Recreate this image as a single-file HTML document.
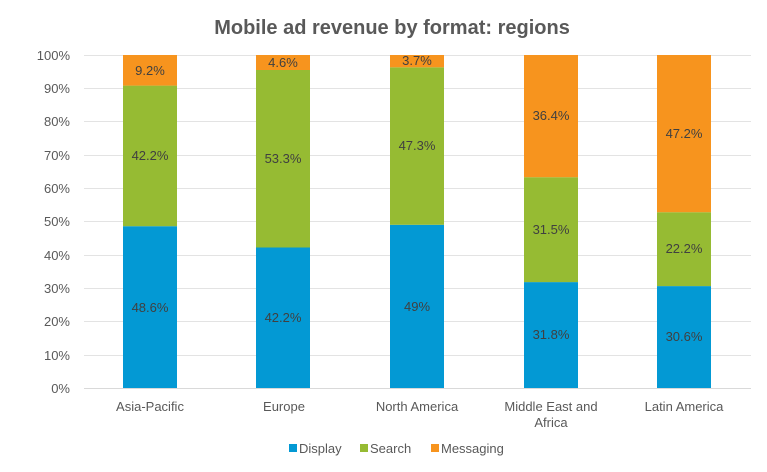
<!DOCTYPE html>
<html><head><meta charset="utf-8"><style>body{margin:0;background:#fff}svg{display:block}</style></head><body>
<svg width="767" height="472" xmlns="http://www.w3.org/2000/svg" font-family="Liberation Sans, Arial, sans-serif">
<text x="392" y="34" text-anchor="middle" font-size="20" font-weight="bold" fill="#595959">Mobile ad revenue by format: regions</text>
<g stroke="#e3e3e3" stroke-width="1">
<line x1="84" x2="751" y1="55.5" y2="55.5"/><line x1="84" x2="751" y1="88.5" y2="88.5"/><line x1="84" x2="751" y1="121.5" y2="121.5"/><line x1="84" x2="751" y1="155.5" y2="155.5"/><line x1="84" x2="751" y1="188.5" y2="188.5"/><line x1="84" x2="751" y1="221.5" y2="221.5"/><line x1="84" x2="751" y1="255.5" y2="255.5"/><line x1="84" x2="751" y1="288.5" y2="288.5"/><line x1="84" x2="751" y1="321.5" y2="321.5"/><line x1="84" x2="751" y1="355.5" y2="355.5"/><line x1="84" x2="751" y1="388.5" y2="388.5" stroke="#d9d9d9"/>
</g>
<g font-size="13" fill="#595959" text-anchor="end">
<text x="70" y="60">100%</text><text x="70" y="93">90%</text><text x="70" y="126">80%</text><text x="70" y="160">70%</text><text x="70" y="193">60%</text><text x="70" y="226">50%</text><text x="70" y="260">40%</text><text x="70" y="293">30%</text><text x="70" y="326">20%</text><text x="70" y="360">10%</text><text x="70" y="393">0%</text>
</g>
<!-- bars: y(p)=388-3.33p -->
<g>
<rect x="123" y="226.2" width="54" height="161.8" fill="#0399D4"/><rect x="123" y="85.6" width="54" height="140.6" fill="#96BB33"/><rect x="123" y="55" width="54" height="30.6" fill="#F7941E"/>
<rect x="256" y="247.5" width="54" height="140.5" fill="#0399D4"/><rect x="256" y="70.0" width="54" height="177.5" fill="#96BB33"/><rect x="256" y="55" width="54" height="15" fill="#F7941E"/>
<rect x="390" y="224.8" width="54" height="163.2" fill="#0399D4"/><rect x="390" y="67.3" width="54" height="157.5" fill="#96BB33"/><rect x="390" y="55" width="54" height="12.3" fill="#F7941E"/>
<rect x="524" y="282.1" width="54" height="105.9" fill="#0399D4"/><rect x="524" y="177.2" width="54" height="104.9" fill="#96BB33"/><rect x="524" y="55" width="54" height="122.2" fill="#F7941E"/>
<rect x="657" y="286.1" width="54" height="101.9" fill="#0399D4"/><rect x="657" y="212.2" width="54" height="73.9" fill="#96BB33"/><rect x="657" y="55" width="54" height="157.2" fill="#F7941E"/>
</g>
<g font-size="13" fill="#404040" text-anchor="middle">
<text x="150" y="312">48.6%</text><text x="150" y="160">42.2%</text><text x="150" y="75">9.2%</text>
<text x="283" y="322">42.2%</text><text x="283" y="163">53.3%</text><text x="283" y="67">4.6%</text>
<text x="417" y="311">49%</text><text x="417" y="150">47.3%</text><text x="417" y="65">3.7%</text>
<text x="551" y="339">31.8%</text><text x="551" y="234">31.5%</text><text x="551" y="120">36.4%</text>
<text x="684" y="341">30.6%</text><text x="684" y="253">22.2%</text><text x="684" y="138">47.2%</text>
</g>
<g font-size="13" fill="#595959" text-anchor="middle">
<text x="150" y="411">Asia-Pacific</text><text x="284" y="411">Europe</text><text x="417" y="411">North America</text><text x="551" y="411">Middle East and</text><text x="551" y="427">Africa</text><text x="684" y="411">Latin America</text>
</g>
<g font-size="13" fill="#595959">
<rect x="289" y="444" width="8" height="8" fill="#0399D4"/><text x="299" y="453">Display</text>
<rect x="360" y="444" width="8" height="8" fill="#96BB33"/><text x="370" y="453">Search</text>
<rect x="431" y="444" width="8" height="8" fill="#F7941E"/><text x="441" y="453">Messaging</text>
</g>
</svg>
</body></html>
